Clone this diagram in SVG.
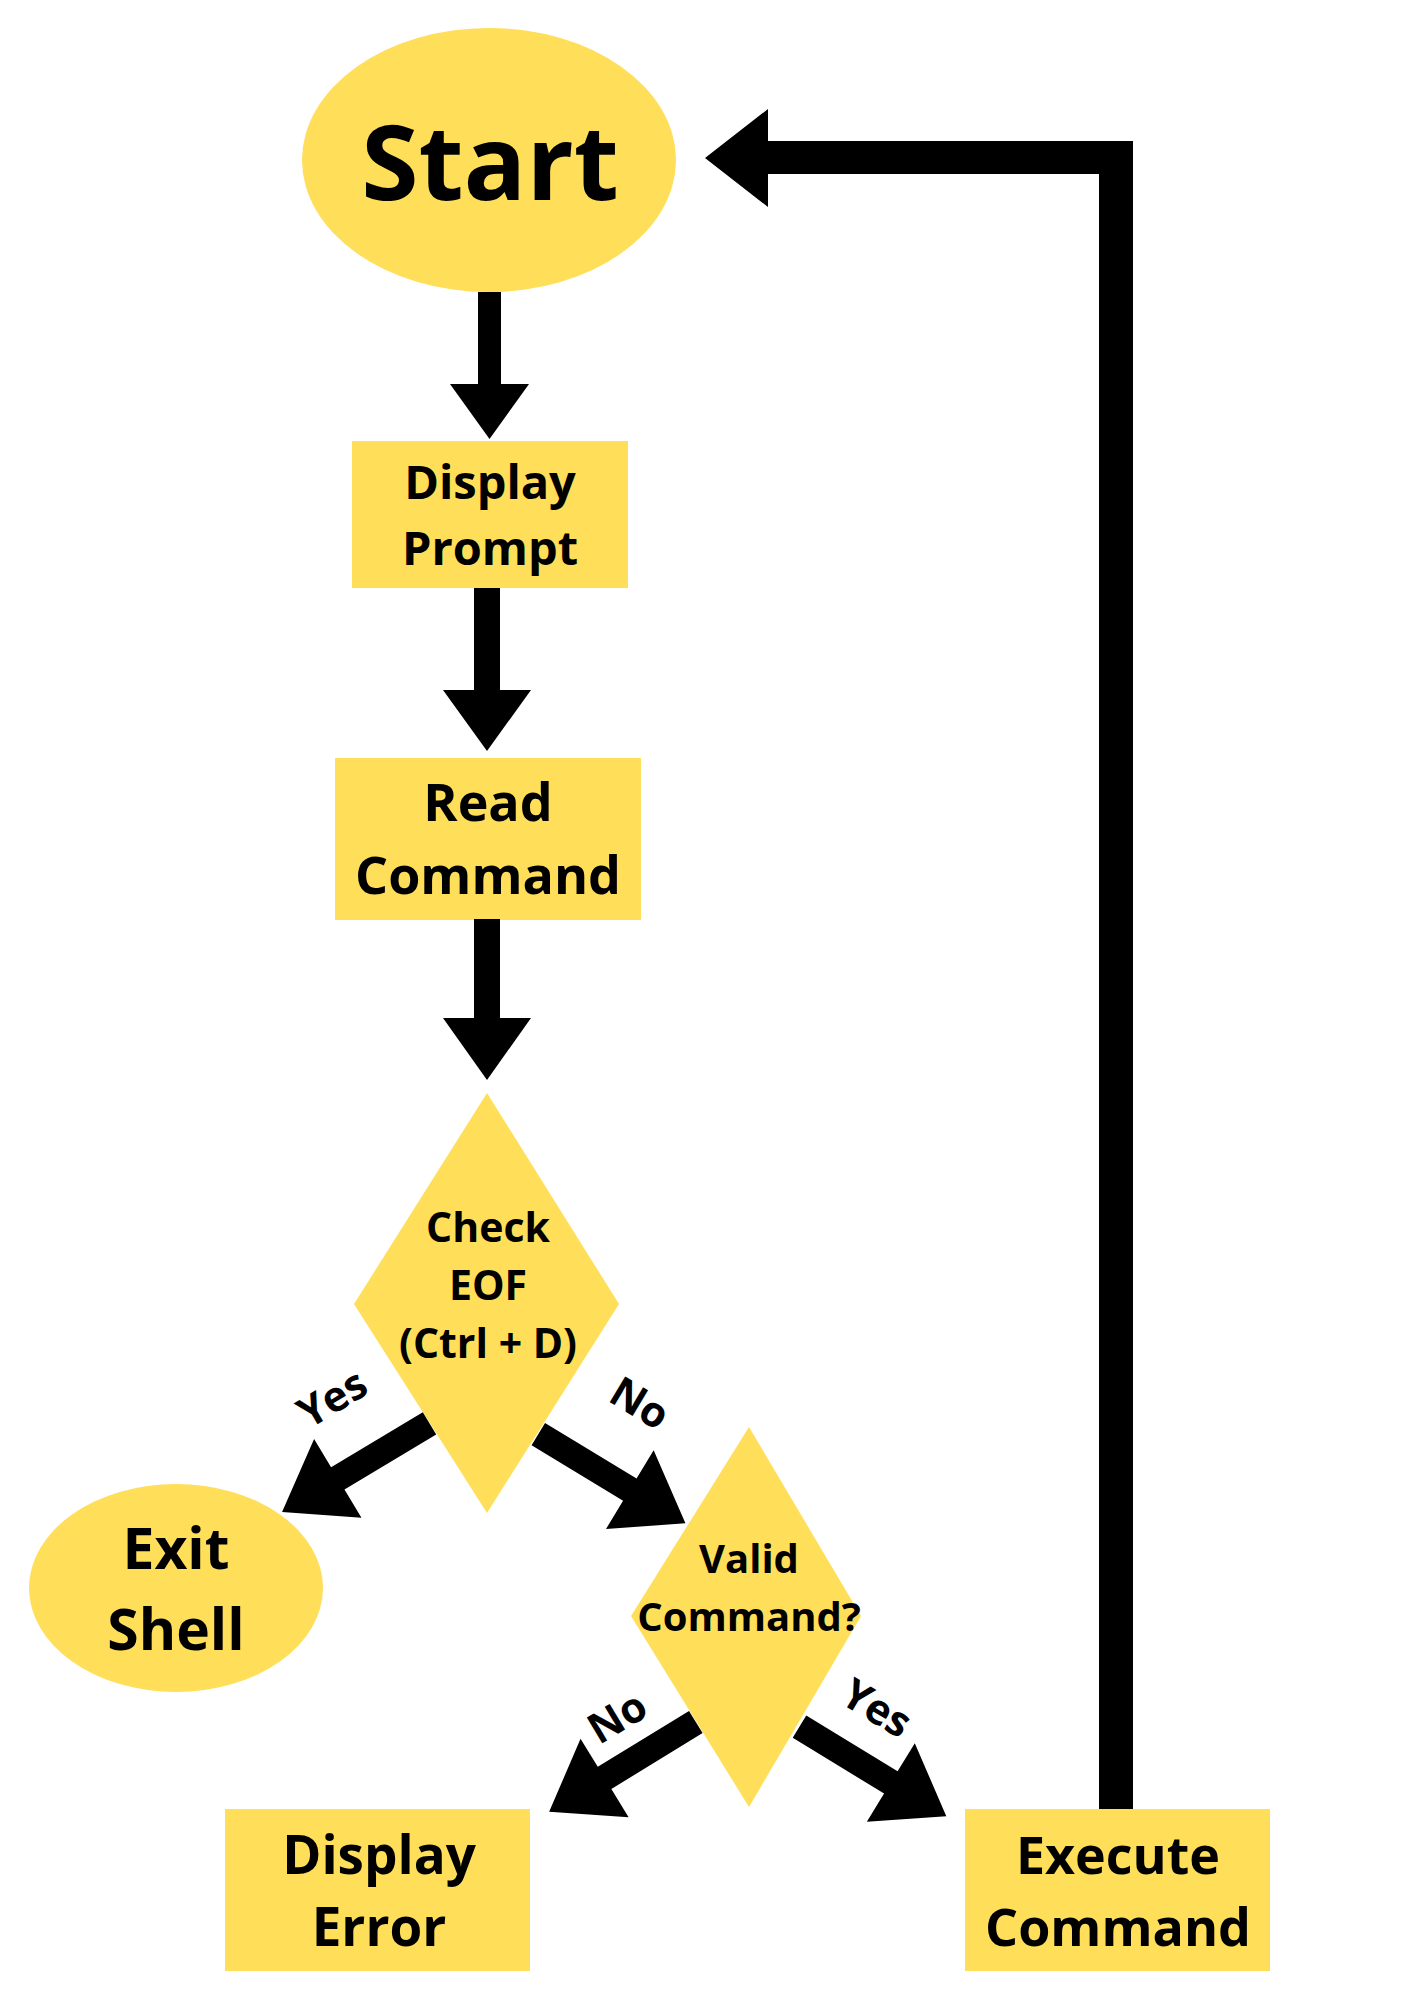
<svg xmlns="http://www.w3.org/2000/svg" width="1414" height="2000" viewBox="0 0 1414 2000">
  <defs>
    <style>
      .node { fill: #FFDE59; }
      .t { font-family: "Open Sans", "Noto Sans", "DejaVu Sans", sans-serif; font-weight: 700; fill: #000; text-anchor: middle; }
      .conn { fill: #000; }
      .lbl { font-family: "Open Sans", "Noto Sans", "DejaVu Sans", sans-serif; font-weight: 700; fill: #000; text-anchor: middle; font-size: 42px; }
    </style>
    <path id="diag" d="M0,-13 L107,-13 L107,-46 L172,0 L107,46 L107,13 L0,13 Z"/>
  </defs>
  <rect width="1414" height="2000" fill="#fff"/>

  <g id="start">
    <ellipse class="node" cx="489" cy="160" rx="187" ry="132"/>
    <text class="t" x="490" y="200" font-size="104">Start</text>
  </g>
  <g id="display-prompt">
    <rect class="node" x="352" y="441" width="276" height="147"/>
    <text class="t" x="490" y="499" font-size="47">Display</text>
    <text class="t" x="490" y="565" font-size="47">Prompt</text>
  </g>
  <g id="read-command">
    <rect class="node" x="335" y="758" width="306" height="162"/>
    <text class="t" x="488" y="821" font-size="52">Read</text>
    <text class="t" x="488" y="894" font-size="52">Command</text>
  </g>
  <g id="check-eof">
    <polygon class="node" points="487,1093 619,1304 487,1513 354,1304"/>
    <text class="t" x="488" y="1242" font-size="41">Check</text>
    <text class="t" x="488" y="1300" font-size="41">EOF</text>
    <text class="t" x="488" y="1358" font-size="41">(Ctrl + D)</text>
  </g>
  <g id="exit-shell">
    <ellipse class="node" cx="176" cy="1588" rx="147" ry="104"/>
    <text class="t" x="176" y="1569" font-size="57">Exit</text>
    <text class="t" x="176" y="1650" font-size="57">Shell</text>
  </g>
  <g id="valid-command">
    <polygon class="node" points="749,1427 861,1616 749,1807 631,1616"/>
    <text class="t" x="749" y="1573" font-size="40">Valid</text>
    <text class="t" x="749" y="1631" font-size="40">Command?</text>
  </g>
  <g id="display-error">
    <rect class="node" x="225" y="1809" width="305" height="162"/>
    <text class="t" x="379" y="1874" font-size="53">Display</text>
    <text class="t" x="379" y="1946" font-size="53">Error</text>
  </g>
  <g id="execute-command">
    <rect class="node" x="965" y="1809" width="305" height="162"/>
    <text class="t" x="1118" y="1874" font-size="52">Execute</text>
    <text class="t" x="1118" y="1946" font-size="52">Command</text>
  </g>

  <g id="connectors">
    <polygon class="conn" points="478,292 501,292 501,384 529,384 489.5,439 450,384 478,384"/>
    <polygon class="conn" points="474,588 500,588 500,690 531,690 487,751 443,690 474,690"/>
    <polygon class="conn" points="474,919 500,919 500,1018 531,1018 487,1080 443,1018 474,1018"/>
    <use href="#diag" class="conn" transform="translate(429.5,1423.3) rotate(149)"/>
    <use href="#diag" class="conn" transform="translate(538.3,1434.2) rotate(31.2)"/>
    <use href="#diag" class="conn" transform="translate(695.8,1722) rotate(148.5)"/>
    <use href="#diag" class="conn" transform="translate(799.5,1726.7) rotate(31.4)"/>
    <polygon class="conn" points="1099,1809 1099,174 768,174 768,207 705,158 768,109 768,141 1133,141 1133,1809"/>
    <text class="lbl" transform="translate(332,1398) rotate(-31)" y="15">Yes</text>
    <text class="lbl" transform="translate(640,1403) rotate(31)" y="15">No</text>
    <text class="lbl" transform="translate(617,1717) rotate(-31)" y="15">No</text>
    <text class="lbl" transform="translate(877,1708) rotate(31)" y="15">Yes</text>
  </g>
</svg>
